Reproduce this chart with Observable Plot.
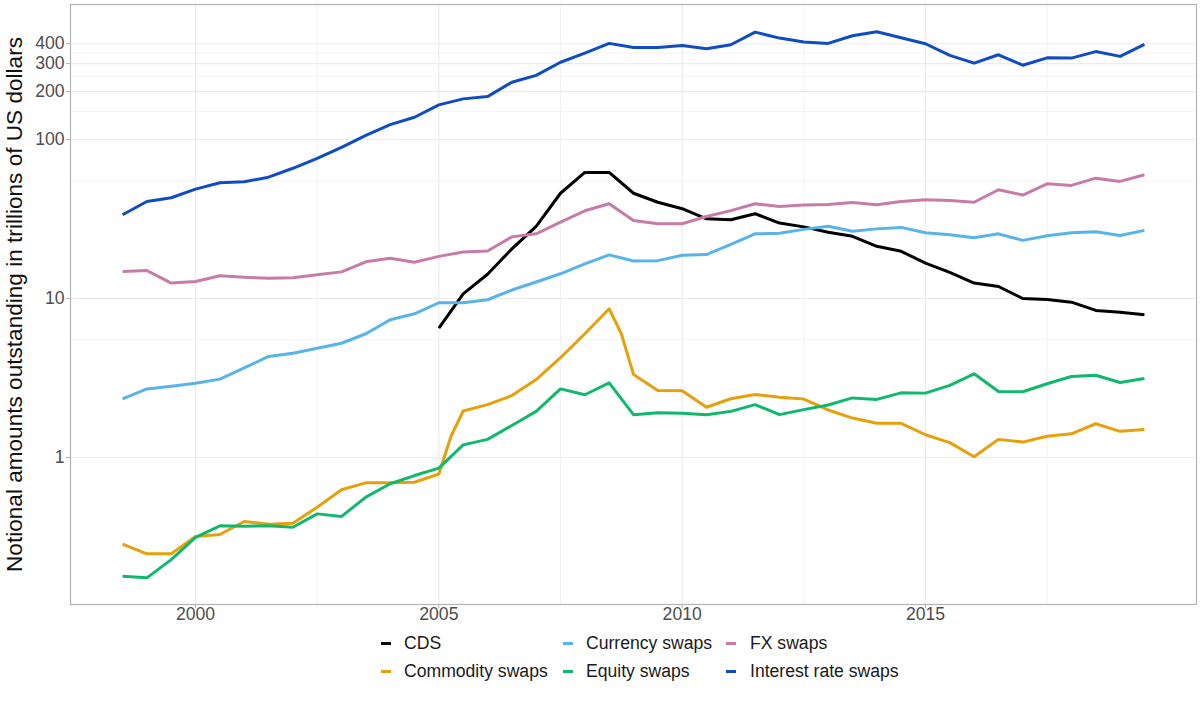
<!DOCTYPE html>
<html>
<head>
<meta charset="utf-8">
<script src="https://cdn.jsdelivr.net/npm/d3@7"></script>
<script src="https://cdn.jsdelivr.net/npm/@observablehq/plot@0.6"></script>
<style>
  body { margin: 0; background: #fff; font-family: "Liberation Sans", Arial, sans-serif; }
  #wrap { position: relative; width: 1200px; height: 720px; overflow: hidden; }
  #wrap svg { display: block; }
  .key { position: absolute; height: 3px; width: 10px; }
  .lt { position: absolute; font-size: 17.6px; color: #1a1a1a; white-space: nowrap; line-height: 20px; height: 20px; }
</style>
</head>
<body>
<div id="wrap"></div>
<script>
// ---- data (notional amounts outstanding, trillions of USD) ----
const halfYears = [1998.5, 1999, 1999.5, 2000, 2000.5, 2001, 2001.5, 2002, 2002.5, 2003, 2003.5, 2004, 2004.5, 2005, 2005.5, 2006, 2006.5, 2007, 2007.5, 2008, 2008.5, 2009, 2009.5, 2010, 2010.5, 2011, 2011.5, 2012, 2012.5, 2013, 2013.5, 2014, 2014.5, 2015, 2015.5, 2016, 2016.5, 2017, 2017.5, 2018, 2018.5, 2019, 2019.5];

const cdsDates = [2005, 2005.5, 2006, 2006.5, 2007, 2007.5, 2008, 2008.5, 2009, 2009.5, 2010, 2010.5, 2011, 2011.5, 2012, 2012.5, 2013, 2013.5, 2014, 2014.5, 2015, 2015.5, 2016, 2016.5, 2017, 2017.5, 2018, 2018.5, 2019, 2019.5];
const cds = [6.51, 10.7, 14.2, 20.5, 28.4, 45.9, 62.0, 62.0, 45.9, 40.3, 36.7, 31.7, 31.3, 34.1, 29.8, 28.2, 26.1, 24.6, 21.3, 19.8, 16.7, 14.6, 12.5, 11.9, 10.0, 9.86, 9.48, 8.41, 8.20, 7.89];

const commodityDates = [1998.5, 1999, 1999.5, 2000, 2000.5, 2001, 2001.5, 2002, 2002.5, 2003, 2003.5, 2004, 2004.5, 2005, 2005.25, 2005.5, 2006, 2006.5, 2007, 2007.5, 2008, 2008.5, 2008.75, 2009, 2009.5, 2010, 2010.5, 2011, 2011.5, 2012, 2012.5, 2013, 2013.5, 2014, 2014.5, 2015, 2015.5, 2016, 2016.5, 2017, 2017.5, 2018, 2018.5, 2019, 2019.5];
const commodity = [0.285, 0.248, 0.248, 0.319, 0.328, 0.396, 0.381, 0.386, 0.487, 0.627, 0.693, 0.693, 0.699, 0.787, 1.36, 1.96, 2.15, 2.45, 3.09, 4.24, 6.00, 8.62, 6.0, 3.33, 2.64, 2.63, 2.07, 2.34, 2.49, 2.39, 2.33, 1.99, 1.77, 1.64, 1.64, 1.39, 1.24, 1.01, 1.30, 1.25, 1.36, 1.41, 1.63, 1.46, 1.50];

const currency = [2.34, 2.70, 2.81, 2.93, 3.11, 3.66, 4.32, 4.53, 4.87, 5.23, 6.00, 7.35, 8.01, 9.40, 9.41, 9.82, 11.3, 12.7, 14.3, 16.5, 18.8, 17.2, 17.3, 18.7, 18.9, 21.9, 25.5, 25.7, 27.2, 28.5, 26.5, 27.4, 28.0, 25.9, 25.2, 24.1, 25.5, 23.2, 24.8, 25.9, 26.3, 24.9, 26.8];

const equity = [0.179, 0.175, 0.228, 0.315, 0.372, 0.370, 0.372, 0.364, 0.442, 0.426, 0.563, 0.684, 0.770, 0.857, 1.20, 1.30, 1.59, 1.95, 2.70, 2.48, 2.95, 1.86, 1.91, 1.90, 1.86, 1.95, 2.15, 1.86, 2.00, 2.14, 2.37, 2.32, 2.55, 2.54, 2.84, 3.36, 2.60, 2.59, 2.91, 3.23, 3.29, 2.96, 3.14];

const fx = [14.8, 15.0, 12.5, 12.8, 13.9, 13.6, 13.4, 13.5, 14.1, 14.7, 17.0, 17.9, 16.9, 18.4, 19.6, 19.9, 24.4, 25.5, 30.2, 35.6, 39.4, 30.9, 29.5, 29.5, 32.8, 35.7, 39.4, 37.9, 38.7, 39.0, 40.2, 38.8, 40.7, 41.8, 41.3, 40.3, 48.3, 44.7, 52.6, 51.4, 57.1, 54.5, 60.0];

const irs = [33.6, 40.7, 43.0, 48.7, 53.4, 54.2, 57.9, 65.9, 76.0, 89.1, 106, 124, 138, 165, 180, 186, 229, 253, 306, 349, 402, 379, 379, 390, 372, 394, 473, 434, 410, 402, 449, 476, 436, 400, 338, 302, 341, 293, 326, 325, 357, 333, 396];

const seriesNames = ["CDS", "Commodity swaps", "Currency swaps", "Equity swaps", "FX swaps", "Interest rate swaps"];
const seriesColors = ["#000000", "#E6A00C", "#56B4E9", "#10B86E", "#C77BA8", "#0D4CC2"];

const xTicks = [2000, 2005, 2010, 2015];
const xMinor = [2002.5, 2007.5, 2012.5, 2017.5];
const yTicks = [1, 10, 100, 200, 300, 400];
const yMinor = [5.5, 55, 150, 250, 350];
const yTitle = "Notional amounts outstanding in trillions of US dollars";

// ---- build long table ----
const rows = [];
function add(name, dates, vals) {
  dates.forEach((d, i) => { if (vals[i] != null) rows.push({series: name, date: d, value: vals[i]}); });
}
add("CDS", cdsDates, cds);
add("Commodity swaps", commodityDates, commodity);
add("Currency swaps", halfYears, currency);
add("Equity swaps", halfYears, equity);
add("FX swaps", halfYears, fx);
add("Interest rate swaps", halfYears, irs);

const grid = "#ebebeb";
const tickCol = "#b3b3b3";
const labCol = "#4d4d4d";
const chart = Plot.plot({
  width: 1200,
  height: 640,
  marginLeft: 70,
  marginRight: 4,
  marginTop: 4,
  marginBottom: 36,
  style: {fontFamily: "Liberation Sans, Arial, sans-serif", background: "#ffffff"},
  x: {domain: [1997.43, 2020.57], axis: null},
  y: {type: "log", domain: [0.119, 706], axis: null},
  color: {domain: seriesNames, range: seriesColors},
  marks: [
    Plot.ruleX(xMinor, {stroke: grid, strokeWidth: 0.6}),
    Plot.ruleY(yMinor, {stroke: grid, strokeWidth: 0.6}),
    Plot.ruleX(xTicks, {stroke: grid, strokeWidth: 1.1}),
    Plot.ruleY(yTicks, {stroke: grid, strokeWidth: 1.1}),
    Plot.line(rows, {x: "date", y: "value", z: "series", stroke: "series", strokeWidth: 3, strokeLinejoin: "round", strokeLinecap: "butt"}),
    Plot.frame({stroke: tickCol, strokeWidth: 1.2}),
    // x axis ticks + labels
    Plot.axisX({ticks: xTicks, tickFormat: () => "", tickSize: 4, stroke: tickCol, label: null}),
    Plot.text(xTicks, {x: d => d, text: d => String(d), frameAnchor: "bottom", dy: 10, lineAnchor: "middle", fill: labCol, fontSize: 17.6}),
    // y axis ticks + labels
    Plot.axisY({ticks: yTicks, tickFormat: () => "", tickSize: 4, stroke: tickCol, label: null}),
    Plot.text(yTicks, {y: d => d, text: d => String(d), frameAnchor: "left", dx: -6, textAnchor: "end", lineAnchor: "middle", fill: labCol, fontSize: 17.6}),
    // y axis title
    Plot.text([yTitle], {text: d => d, frameAnchor: "left", dx: -56, rotate: -90, textAnchor: "middle", lineAnchor: "middle", fontSize: 22.6, fill: "#111111"})
  ]
});
const wrap = document.getElementById("wrap");
wrap.appendChild(chart);

// ---- legend (below the plot) ----
const legendLayout = [
  {name: "CDS", kx: 381, tx: 404, y: 643},
  {name: "Currency swaps", kx: 563, tx: 586, y: 643},
  {name: "FX swaps", kx: 726, tx: 750, y: 643},
  {name: "Commodity swaps", kx: 381, tx: 404, y: 671},
  {name: "Equity swaps", kx: 563, tx: 586, y: 671},
  {name: "Interest rate swaps", kx: 726, tx: 750, y: 671}
];
legendLayout.forEach(it => {
  const c = seriesColors[seriesNames.indexOf(it.name)];
  const k = document.createElement("div");
  k.className = "key";
  k.style.left = it.kx + "px";
  k.style.top = (it.y - 1.5) + "px";
  k.style.background = c;
  wrap.appendChild(k);
  const t = document.createElement("div");
  t.className = "lt";
  t.style.left = it.tx + "px";
  t.style.top = (it.y - 10) + "px";
  t.textContent = it.name;
  wrap.appendChild(t);
});
</script>
</body>
</html>
